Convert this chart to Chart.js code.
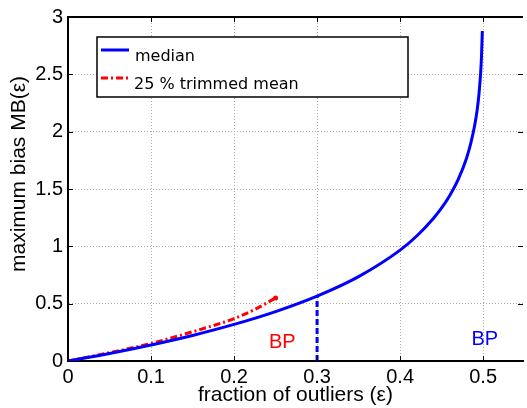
<!DOCTYPE html>
<html>
<head>
<meta charset="utf-8">
<script src="https://cdn.jsdelivr.net/npm/chart.js@4"></script>
<style>
  html, body { margin: 0; padding: 0; background: #fff; }
  canvas { display: block; }
</style>
</head>
<body>
<canvas id="chart" width="527" height="408"></canvas>
<script>
// --- data ---
const medianEps = [0, 0.05, 0.1, 0.15, 0.2, 0.25, 0.3, 0.35, 0.4, 0.42, 0.44, 0.45, 0.46, 0.47, 0.48, 0.485, 0.49, 0.493, 0.495, 0.497, 0.498, 0.499];
const medianBias = [0, 0.066, 0.14, 0.223, 0.319, 0.431, 0.566, 0.736, 0.967, 1.09, 1.243, 1.335, 1.446, 1.584, 1.769, 1.895, 2.062, 2.2, 2.33, 2.514, 2.652, 2.878];

const trimEps = [0, 0.05, 0.1, 0.15, 0.2, 0.225, 0.25];
const trimBias = [0, 0.072, 0.153, 0.255, 0.37, 0.45, 0.55];

const bpEps = [0.3, 0.3];
const bpBias = [0, 0.566];

const xTicks = [0, 0.1, 0.2, 0.3, 0.4, 0.5];
const yTicks = [0, 0.5, 1, 1.5, 2, 2.5, 3];

const legendLabels = ['median', '25 % trimmed mean'];

const toPoints = (xs, ys) => xs.map((x, i) => ({ x: x, y: ys[i] }));

const tickFont = { family: 'Liberation Sans', size: 20 };

// legend, BP labels, top border, inward ticks, y title
const extras = {
  id: 'extras',
  afterDraw(chart) {
    const ctx = chart.ctx;
    const a = chart.chartArea;
    const xs = chart.scales.x;
    const ys = chart.scales.y;
    ctx.save();

    // top border
    ctx.strokeStyle = '#000';
    ctx.lineWidth = 2;
    ctx.beginPath();
    ctx.moveTo(a.left - 1, a.top);
    ctx.lineTo(a.right, a.top);
    ctx.stroke();

    // inward tick marks
    ctx.lineWidth = 1;
    xTicks.forEach(v => {
      const px = Math.round(xs.getPixelForValue(v)) + 0.5;
      ctx.beginPath();
      ctx.moveTo(px, a.bottom); ctx.lineTo(px, a.bottom - 5);
      ctx.moveTo(px, a.top); ctx.lineTo(px, a.top + 5);
      ctx.stroke();
    });
    yTicks.forEach(v => {
      const py = Math.round(ys.getPixelForValue(v)) + 0.5;
      ctx.beginPath();
      ctx.moveTo(a.left, py); ctx.lineTo(a.left + 5, py);
      ctx.moveTo(a.right, py); ctx.lineTo(a.right - 5, py);
      ctx.stroke();
    });

    // y axis title
    ctx.fillStyle = '#000';
    ctx.font = '21px "Liberation Sans"';
    ctx.textAlign = 'center';
    ctx.textBaseline = 'middle';
    ctx.translate(19, 174);
    ctx.rotate(-Math.PI / 2);
    ctx.fillText('maximum bias MB(ε)', 0, 0);
    ctx.setTransform(1, 0, 0, 1, 0, 0);

    // BP labels
    ctx.font = '20px "Liberation Sans"';
    ctx.fillStyle = '#ff0000';
    ctx.fillText('BP', xs.getPixelForValue(0.258), ys.getPixelForValue(0.164));
    ctx.fillStyle = '#0000ff';
    ctx.fillText('BP', xs.getPixelForValue(0.502), ys.getPixelForValue(0.19));

    // legend box
    ctx.fillStyle = '#fff';
    ctx.fillRect(97, 37, 311, 60);
    ctx.strokeStyle = '#000';
    ctx.lineWidth = 1.5;
    ctx.strokeRect(97, 37, 311, 60);

    ctx.lineWidth = 3;
    ctx.strokeStyle = '#0000ff';
    ctx.beginPath();
    ctx.moveTo(101, 50); ctx.lineTo(129, 50);
    ctx.stroke();

    ctx.strokeStyle = '#ff0000';
    ctx.setLineDash([7, 3, 2, 3]);
    ctx.beginPath();
    ctx.moveTo(101, 78); ctx.lineTo(129, 78);
    ctx.stroke();
    ctx.setLineDash([]);

    ctx.fillStyle = '#000';
    ctx.font = '16px "DejaVu Sans"';
    ctx.textAlign = 'left';
    ctx.textBaseline = 'alphabetic';
    ctx.fillText(legendLabels[0], 135, 61);
    ctx.fillText(legendLabels[1], 134, 89);

    ctx.restore();
  }
};

new Chart(document.getElementById('chart'), {
  type: 'line',
  data: {
    datasets: [
      {
        label: legendLabels[0],
        data: toPoints(medianEps, medianBias),
        borderColor: '#0000ff',
        borderWidth: 3,
        pointRadius: 0,
        cubicInterpolationMode: 'monotone',
        fill: false
      },
      {
        label: legendLabels[1],
        data: toPoints(trimEps, trimBias),
        borderColor: '#ff0000',
        backgroundColor: '#ff0000',
        borderWidth: 3,
        borderDash: [7, 3, 2, 3],
        pointRadius: trimEps.map((v, i) => i === trimEps.length - 1 ? 2.5 : 0),
        pointBorderWidth: 0,
        cubicInterpolationMode: 'monotone',
        fill: false
      },
      {
        label: 'BP',
        data: toPoints(bpEps, bpBias),
        borderColor: '#0000ff',
        borderWidth: 3,
        borderDash: [6, 3],
        pointRadius: 0,
        fill: false
      }
    ]
  },
  options: {
    responsive: false,
    animation: false,
    devicePixelRatio: 1,
    layout: { padding: { top: 13, right: 0, left: 0, bottom: 0 } },
    plugins: {
      legend: { display: false },
      tooltip: { enabled: false }
    },
    scales: {
      x: {
        type: 'linear',
        min: 0,
        max: 0.548,
        afterFit: (scale) => { scale.height = 47; },
        ticks: {
          stepSize: 0.1,
          includeBounds: false,
          color: '#000',
          font: tickFont,
          padding: 4,
          maxRotation: 0,
          callback: (v) => String(+v.toFixed(1))
        },
        grid: { color: '#ababab', lineWidth: 1, drawTicks: false },
        border: { display: true, color: '#000', width: 2, dash: [1, 2] },
        title: {
          display: true,
          text: 'fraction of outliers (ε)',
          color: '#000',
          font: { family: 'Liberation Sans', size: 21 },
          padding: { top: 0, bottom: 0 }
        }
      },
      y: {
        min: 0,
        max: 3,
        afterFit: (scale) => { scale.width = 68; },
        ticks: {
          stepSize: 0.5,
          color: '#000',
          font: tickFont,
          padding: 5,
          callback: (v) => String(+v.toFixed(1))
        },
        grid: { color: '#ababab', lineWidth: 1, drawTicks: false },
        border: { display: true, color: '#000', width: 2, dash: [1, 2] }
      }
    }
  },
  plugins: [extras]
});
</script>
</body>
</html>
